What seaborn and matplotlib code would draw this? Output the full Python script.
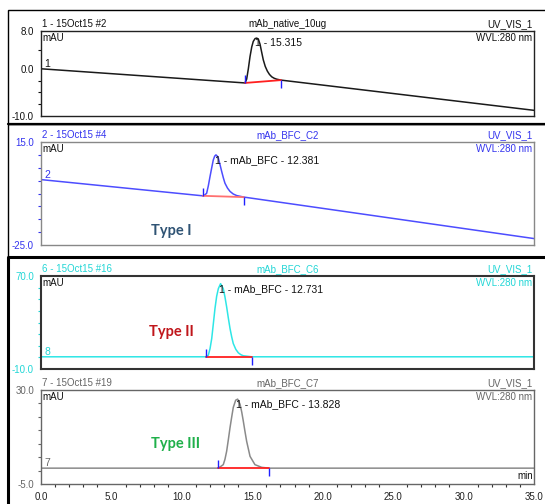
import matplotlib
matplotlib.use("Agg")
import matplotlib.pyplot as plt
from matplotlib.patches import Rectangle
import seaborn as sns

# ---- data (time in min, signal in mAU) ----
t_native = [0.0, 14.48, 14.60, 14.72, 14.84, 14.96, 15.07, 15.20, 15.32, 15.44, 15.55,
            15.66, 15.78, 15.92, 16.07, 16.22, 16.38, 16.55, 16.73, 17.04, 35.0]
y_native = [0.0, -3.0, -2.2, 0.0, 2.6, 4.6, 5.8, 6.4, 6.5, 6.2, 5.2,
            3.6, 1.9, 0.5, -0.5, -1.2, -1.7, -2.0, -2.2, -2.4, -8.8]

t_c2 = [0.0, 11.48, 11.62, 11.76, 11.88, 12.00, 12.12, 12.23, 12.33, 12.42, 12.50, 12.59,
        12.70, 12.83, 12.95, 13.06, 13.24, 13.42, 13.65, 13.89, 14.41, 35.0]
y_c2 = [0.4, -5.9, -5.6, -4.9, -2.0, 1.6, 5.0, 8.0, 9.5, 10.0, 9.6, 8.7,
        6.4, 3.5, 1.0, -1.0, -2.9, -4.2, -5.2, -5.8, -6.4, -22.5]

t_c6 = [0.0, 11.69, 11.88, 12.00, 12.12, 12.24, 12.35, 12.47, 12.59, 12.75, 12.94,
        13.06, 13.18, 13.30, 13.42, 13.54, 13.65, 13.83, 14.01, 14.19, 14.36, 14.96, 35.0]
y_c6 = [0.5, 0.5, 1.9, 7.5, 16.2, 29.5, 41.9, 52.5, 59.1, 63.4, 59.1,
        52.0, 43.4, 33.8, 24.8, 17.5, 11.9, 6.9, 3.9, 2.3, 1.4, 0.5, 0.5]

t_c7 = [0.0, 12.59, 12.94, 13.06, 13.18, 13.30, 13.42, 13.54, 13.65, 13.82, 13.96,
        14.13, 14.25, 14.36, 14.48, 14.60, 14.84, 15.19, 15.67, 16.21, 35.0]
y_c7 = [0.9, 0.9, 2.2, 4.2, 7.2, 11.5, 16.0, 20.0, 23.5, 26.2, 26.6,
        24.7, 21.8, 18.5, 14.6, 10.9, 5.3, 2.2, 1.2, 0.9, 0.9]

# integration limits (start, end) and the baseline level at each limit
peak_start = [14.48, 11.48, 11.69, 12.59]
peak_end = [17.04, 14.41, 14.96, 16.21]
base_start = [-3.0, -5.9, 0.5, 0.9]
base_end = [-2.4, -6.4, 0.5, 0.9]

samples = ["mAb_native_10ug", "mAb_BFC_C2", "mAb_BFC_C6", "mAb_BFC_C7"]
injections = ["1 - 15Oct15 #2", "2 - 15Oct15 #4", "6 - 15Oct15 #16", "7 - 15Oct15 #19"]
channel_ids = ["1", "2", "8", "7"]
peak_labels = ["1 - 15.315", "1 - mAb_BFC - 12.381", "1 - mAb_BFC - 12.731", "1 - mAb_BFC - 13.828"]
type_labels = [None, "Type I", "Type II", "Type III"]
y_limits = [(-10, 8), (-25, 15), (-10, 70), (-5, 30)]
y_labelled = [[8, 0, -10], [15, -25], [70, -10], [30, -5]]
y_minor = [[4, -2.5, -5, -7.5], [10, 5, 0, -5, -10, -15, -20],
           [60, 50, 40, 30, 20, 10, 0], [25, 20, 15, 10, 5, 0]]
x_labelled = [0, 5, 10, 15, 20, 25, 30, 35]
x_minor = [m for m in range(0, 36) if m % 5]

traces = [(t_native, y_native), (t_c2, y_c2), (t_c6, y_c6), (t_c7, y_c7)]

# styling per panel
trace_colors = ["#1a1a1a", "#4d4dff", "#2ee6e6", "#8a8a8a"]
text_colors = ["#111111", "#3333ee", "#22d6d6", "#666666"]
spine_colors = ["#222222", "#888888", "#333333", "#666666"]
type_colors = [None, "#2f5374", "#c0161b", "#1fb04a"]
type_pos = [None, (7.8, -19.5), (7.7, 22.0), (7.8, 10.0)]
# axes boxes in pixels: top, bottom
rows_px = [(31, 116), (142, 245), (276, 369), (390, 484)]

W, H = 545, 504

sns.set_style("white")
plt.rcParams["font.family"] = ["Liberation Sans", "DejaVu Sans"]

fig = plt.figure(figsize=(W / 100, H / 100), dpi=100)

# outer frames of the stacked report panels
frame_kw = dict(transform=fig.transFigure, fill=False, edgecolor="black", clip_on=False)
fig.patches.append(Rectangle((8 / W, 1 - 124 / H), 600 / W, 114 / H, lw=1.0, **frame_kw))
fig.patches.append(Rectangle((8 / W, 1 - 257 / H), 600 / W, 133 / H, lw=1.0, **frame_kw))
fig.lines.append(plt.Line2D([8 / W, 8 / W, 1.0], [0, 1 - 257 / H, 1 - 257 / H],
                            transform=fig.transFigure, color="black", lw=2.2))
fig.lines.append(plt.Line2D([8 / W, 1.0], [1 - 124 / H, 1 - 124 / H],
                            transform=fig.transFigure, color="black", lw=1.6))

left, right = 41 / W, 534 / W
for i, (t, y) in enumerate(traces):
    top, bot = rows_px[i]
    ax = fig.add_axes([left, 1 - bot / H, right - left, (bot - top) / H])

    sns.lineplot(x=t, y=y, ax=ax, color=trace_colors[i], lw=1.1, sort=False,
                 estimator=None, legend=False)

    # integration baseline and delimiters
    ax.plot([peak_start[i], peak_end[i]], [base_start[i], base_end[i]],
            color="#ff2020" if i != 1 else "#ff7070", lw=1.3)
    ax.plot([peak_start[i]], [base_start[i]], marker=2, ms=6, mew=1.0, color="#2020ff")
    ax.plot([peak_end[i]], [base_end[i]], marker=3, ms=6, mew=1.0, color="#2020ff")

    ax.set_xlim(0, 35)
    ax.set_ylim(*y_limits[i])
    ax.set_yticks(y_labelled[i])
    ax.set_yticklabels([f"{v:.1f}" for v in y_labelled[i]], fontsize=7, color=text_colors[i])
    ax.set_yticks(y_minor[i], minor=True)
    ax.tick_params(axis="y", which="major", length=4, width=0.8, color=text_colors[i], pad=1)
    ax.tick_params(axis="y", which="minor", length=2.5, width=0.8, color=text_colors[i], left=True)
    ax.set_xlabel("")
    ax.set_ylabel("")

    if i == 3:
        ax.set_xticks(x_labelled)
        ax.set_xticklabels([f"{v:.1f}" for v in x_labelled], fontsize=7, color="#222222")
        ax.set_xticks(x_minor, minor=True)
        ax.tick_params(axis="x", which="major", length=4, width=0.8, color="#333333", pad=1.5)
        ax.tick_params(axis="x", which="minor", length=2.5, width=0.8, color="#333333", bottom=True)
        ax.text(34.9, y_limits[i][0] + 1.0, "min", fontsize=7, ha="right", va="bottom", color="#111111")
    else:
        ax.set_xticks([])

    for s in ax.spines.values():
        s.set_color(spine_colors[i])
        s.set_linewidth(1.5 if i == 2 else 1.0)

    # report headers above the plot area
    hdr = dict(xycoords="axes fraction", textcoords="offset points", fontsize=7,
               color=text_colors[i], va="bottom")
    ax.annotate(injections[i], (0.0, 1.0), xytext=(1, 1.5), ha="left", **hdr)
    ax.annotate(samples[i], (0.5, 1.0), xytext=(0, 1.5), ha="center", **hdr)
    ax.annotate("UV_VIS_1", (1.0, 1.0), xytext=(-1, 1.5), ha="right", **hdr)

    ax.annotate("mAU", (0.0, 1.0), xycoords="axes fraction", xytext=(1, -1.5),
                textcoords="offset points", fontsize=7, color="#111111", ha="left", va="top")
    ax.annotate("WVL:280 nm", (1.0, 1.0), xycoords="axes fraction", xytext=(-1, -1.5),
                textcoords="offset points", fontsize=7, color=text_colors[i], ha="right", va="top")

    ax.text(0.25, y[0], channel_ids[i], fontsize=7.5, color=text_colors[i], ha="left", va="bottom")

    k = y.index(max(y))
    ax.annotate(peak_labels[i], (t[k], y[k]), xytext=(-1, 0), textcoords="offset points",
                fontsize=7.5, color="#111111", ha="left", va="top")

    if type_labels[i]:
        ax.text(*type_pos[i], type_labels[i], fontsize=10.5, fontweight="bold",
                family=["Lato", "DejaVu Sans"], color=type_colors[i], ha="left", va="center")

fig.savefig("out.png", dpi=100)
